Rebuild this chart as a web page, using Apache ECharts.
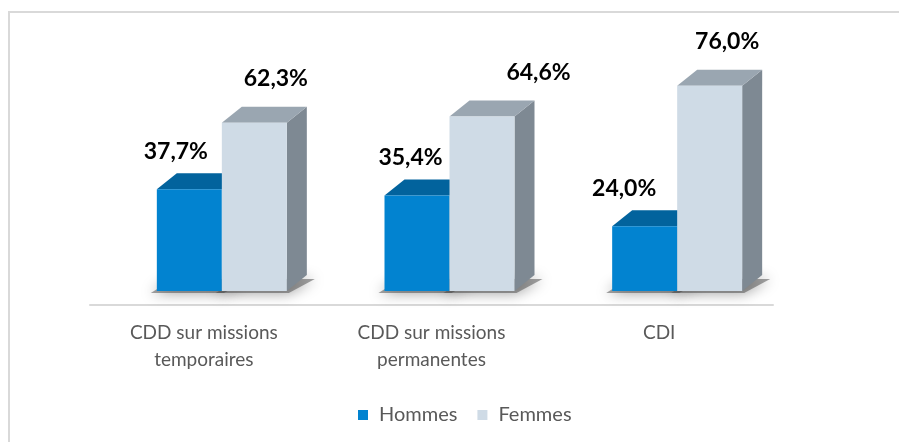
<!DOCTYPE html>
<html>
<head>
<meta charset="utf-8">
<script src="https://cdn.jsdelivr.net/npm/echarts@6/dist/echarts.min.js"></script>
<style>
  html, body { margin: 0; padding: 0; background: #fff; }
  #chart { width: 899px; height: 442px; }
</style>
</head>
<body>
<div id="chart"></div>
<script>
const categories = ['CDD sur missions\ntemporaires', 'CDD sur missions\npermanentes', 'CDI']
const hommes = [37.7, 35.4, 24.0]
const femmes = [62.3, 64.6, 76.0]

// small per-point nudges for the value labels (Excel moved them by hand)
const labelNudgeX = { Hommes: [19, 26, 12], Femmes: [54, 89, 50] }

const FONT = 'Lato, "Open Sans", sans-serif'
const BAR_W = 65
const DX = 20
const DY = -16

const palette = {
  Hommes: { front: '#0283d0', top: '#02639d', side: '#015a8f' },
  Femmes: { front: '#cfdbe6', top: '#9aa6b1', side: '#7e8993' },
}

function make3dBar(name, xShift, zBase) {
  return function (params, api) {
    const cat = api.value(0)
    const v = api.value(1)
    const base = api.coord([cat, 0])
    const top = api.coord([cat, v])
    const x0 = base[0] + xShift
    const x1 = x0 + BAR_W
    const yb = base[1]
    const yt = top[1]
    const c = palette[name]
    const idx = params.dataIndex
    return {
      type: 'group',
      children: [
        {
          // blurred floor shadow
          type: 'polygon',
          z2: 0,
          shape: {
            points: [
              [x0 - 6, yb + 2],
              [x1 + 2, yb + 2],
              [x1 + DX + 8, yb + DY + 4],
              [x0 + DX - 4, yb + DY + 4],
            ],
          },
          style: {
            fill: 'rgba(70,70,70,0.5)',
            shadowBlur: 14,
            shadowColor: 'rgba(0,0,0,0.8)',
          },
        },
        {
          type: 'polygon',
          z2: zBase,
          shape: {
            points: [[x1, yb], [x1 + DX, yb + DY], [x1 + DX, yt + DY], [x1, yt]],
          },
          style: { fill: c.side },
        },
        {
          type: 'polygon',
          z2: zBase,
          shape: {
            points: [[x0, yt], [x0 + DX, yt + DY], [x1 + DX, yt + DY], [x1, yt]],
          },
          style: { fill: c.top },
        },
        {
          type: 'rect',
          z2: zBase + 1,
          shape: { x: x0, y: yt, width: BAR_W, height: yb - yt },
          style: { fill: c.front },
        },
        {
          type: 'text',
          z2: 50,
          style: {
            text: v.toFixed(1).replace('.', ',') + '%',
            x: x0 + labelNudgeX[name][idx],
            y: yt - (name === 'Hommes' ? 38 : 44),
            align: 'center',
            verticalAlign: 'middle',
            font: 'bold 23px ' + FONT,
            fill: '#000',
          },
        },
      ],
    }
  }
}

const chart = echarts.init(document.getElementById('chart'))
chart.setOption({
  animation: false,
  backgroundColor: '#fff',
  graphic: [
    {
      type: 'rect',
      shape: { x: 9, y: 12, width: 1000, height: 1000 },
      style: { fill: 'none', stroke: '#d9d9d9', lineWidth: 2 },
    },
  ],
  grid: { left: 90, right: 126, top: 21, bottom: 151 },
  legend: {
    bottom: 12,
    left: 353,
    icon: 'rect',
    itemWidth: 10,
    itemHeight: 10,
    itemGap: 20,
    textStyle: {
      color: '#595959',
      fontSize: 20,
      fontFamily: FONT,
      padding: [0, 0, 0, 6],
    },
    data: ['Hommes', 'Femmes'],
  },
  xAxis: {
    type: 'category',
    data: categories,
    offset: 14,
    axisLine: { onZero: false, lineStyle: { color: '#d9d9d9', width: 2 } },
    axisTick: { show: false },
    axisLabel: {
      color: '#595959',
      fontSize: 19,
      lineHeight: 27,
      margin: 14,
      fontFamily: FONT,
    },
  },
  yAxis: { type: 'value', min: 0, max: 100, show: false },
  series: [
    {
      name: 'Hommes',
      type: 'custom',
      itemStyle: { color: palette.Hommes.front },
      renderItem: make3dBar('Hommes', -47, 10),
      encode: { x: 0, y: 1 },
      data: hommes.map((v, i) => [i, v]),
    },
    {
      name: 'Femmes',
      type: 'custom',
      itemStyle: { color: palette.Femmes.front },
      renderItem: make3dBar('Femmes', 18, 20),
      encode: { x: 0, y: 1 },
      data: femmes.map((v, i) => [i, v]),
    },
  ],
})
</script>
</body>
</html>
